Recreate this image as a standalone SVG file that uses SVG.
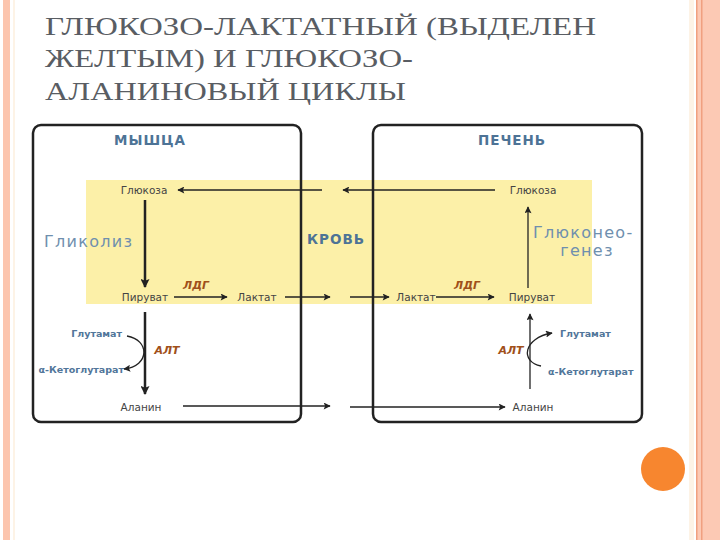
<svg xmlns="http://www.w3.org/2000/svg" width="720" height="540" viewBox="0 0 720 540">
<defs>
<marker id="ah" viewBox="0 0 10 10" refX="9" refY="5" markerWidth="8" markerHeight="7" markerUnits="userSpaceOnUse" orient="auto"><path d="M0,0 L10,5 L0,10 L2,5 Z" fill="#222"/></marker>
<marker id="ahb" viewBox="0 0 10 10" refX="9" refY="5" markerWidth="10" markerHeight="9" markerUnits="userSpaceOnUse" orient="auto"><path d="M0,0 L10,5 L0,10 L2,5 Z" fill="#222"/></marker>
<style>
.t{font-family:"Liberation Serif",serif;font-size:25px;fill:#595d63}
.box{fill:none;stroke:#222;stroke-width:2.5}
.sm{font-family:"DejaVu Sans",sans-serif;font-size:10.5px;fill:#444}
.blue{font-family:"DejaVu Sans",sans-serif;font-size:9.5px;fill:#51769a;font-weight:bold}
.hd{font-family:"DejaVu Sans",sans-serif;font-size:13.5px;font-weight:bold;fill:#4d7396;letter-spacing:1px}
.lt{font-family:"DejaVu Sans",sans-serif;font-size:16px;fill:#6f8fae;letter-spacing:1.3px}
.enz{font-family:"DejaVu Sans",sans-serif;font-size:11px;font-weight:bold;font-style:italic;fill:#a0501a}
.ar{stroke:#222;stroke-width:1.3;fill:none}
.arb{stroke:#222;stroke-width:2.5;fill:none}
</style>
</defs>
<rect x="0" y="0" width="720" height="540" fill="#fff"/>
<g id="page-border">
<rect x="3" y="0" width="7" height="540" fill="#fcc5ae"/>
<rect x="13" y="0" width="2" height="540" fill="#fdf3e6"/>
<rect x="689" y="0" width="5" height="540" fill="#fdf3e6"/>
<rect x="696" y="0" width="24" height="540" fill="#fcc9b4"/>
<rect x="696" y="0" width="1.5" height="540" fill="#f0a080"/>
<rect x="701" y="0" width="1.5" height="540" fill="#f0a080"/>
<circle cx="663" cy="469" r="22" fill="#f7862f"/>
</g>
<g id="title">
<text class="t" x="45" y="35" textLength="551" lengthAdjust="spacingAndGlyphs">ГЛЮКОЗО-ЛАКТАТНЫЙ (ВЫДЕЛЕН</text>
<text class="t" x="45" y="67" textLength="368" lengthAdjust="spacingAndGlyphs">ЖЕЛТЫМ) И ГЛЮКОЗО-</text>
<text class="t" x="45" y="100" textLength="361" lengthAdjust="spacingAndGlyphs">АЛАНИНОВЫЙ ЦИКЛЫ</text>
</g>
<g id="blood">
<rect x="86" y="180" width="506" height="124" fill="#fcf0a8"/>
<text class="hd" x="336" y="244" text-anchor="middle" fill="#4a6a88">КРОВЬ</text>
</g>
<g id="muscle">
<rect class="box" x="33" y="125" width="268" height="297" rx="8"/>
<text class="hd" x="150" y="145" text-anchor="middle">МЫШЦА</text>
<text class="lt" x="44" y="247">Гликолиз</text>
</g>
<g id="liver">
<rect class="box" x="373" y="125" width="269" height="297" rx="8"/>
<text class="hd" x="512" y="145" text-anchor="middle">ПЕЧЕНЬ</text>
<text class="lt" x="533" y="238">Глюконео-</text>
<text class="lt" x="587" y="256" text-anchor="middle">генез</text>
</g>
<g id="nodes">
<text class="sm" x="144" y="194" text-anchor="middle">Глюкоза</text>
<text class="sm" x="533" y="194" text-anchor="middle">Глюкоза</text>
<text class="sm" x="145" y="301" text-anchor="middle">Пируват</text>
<text class="sm" x="257" y="301" text-anchor="middle">Лактат</text>
<text class="sm" x="416" y="301" text-anchor="middle">Лактат</text>
<text class="sm" x="532" y="301" text-anchor="middle">Пируват</text>
<text class="enz" x="196" y="289" text-anchor="middle">ЛДГ</text>
<text class="enz" x="467" y="289" text-anchor="middle">ЛДГ</text>
<text class="blue" x="122" y="337" text-anchor="end">Глутамат</text>
<text class="blue" x="124" y="373" text-anchor="end">α-Кетоглутарат</text>
<text class="enz" x="167" y="354" text-anchor="middle">АЛТ</text>
<text class="sm" x="141" y="411" text-anchor="middle">Аланин</text>
<text class="blue" x="560" y="337">Глутамат</text>
<text class="blue" x="548" y="375">α-Кетоглутарат</text>
<text class="enz" x="511" y="354" text-anchor="middle">АЛТ</text>
<text class="sm" x="533" y="411" text-anchor="middle">Аланин</text>
</g>
<g id="connectors">
<line class="ar" x1="322" y1="190" x2="178" y2="190" marker-end="url(#ah)"/>
<line class="ar" x1="495" y1="190" x2="343" y2="190" marker-end="url(#ah)"/>
<line class="arb" x1="145" y1="200" x2="145" y2="287" marker-end="url(#ahb)"/>
<line class="ar" x1="528" y1="288" x2="528" y2="207" marker-end="url(#ah)"/>
<line class="ar" x1="174" y1="297" x2="227" y2="297" marker-end="url(#ah)"/>
<line class="ar" x1="285" y1="297" x2="330" y2="297" marker-end="url(#ah)"/>
<line class="ar" x1="350" y1="297" x2="389" y2="297" marker-end="url(#ah)"/>
<line class="ar" x1="436" y1="297" x2="494" y2="297" marker-end="url(#ah)"/>
<line class="arb" x1="145" y1="312" x2="145" y2="394" marker-end="url(#ahb)"/>
<path class="ar" d="M127,336 C150,340 150,366 124,369" marker-end="url(#ah)"/>
<line class="ar" x1="183" y1="406" x2="330" y2="406" marker-end="url(#ah)"/>
<line class="ar" x1="530" y1="389" x2="530" y2="314" marker-end="url(#ah)"/>
<path class="ar" d="M541,366 C520,362 523,338 552,333" marker-end="url(#ah)"/>
<line class="ar" x1="350" y1="407" x2="505" y2="407" marker-end="url(#ah)"/>
</g>
</svg>
